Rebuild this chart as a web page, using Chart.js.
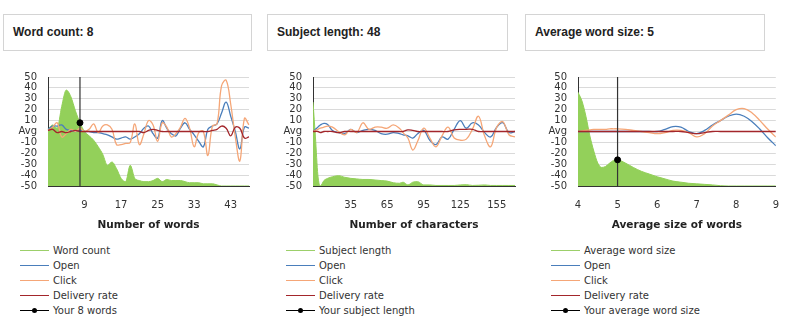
<!DOCTYPE html>
<html lang="en">
<head>
<meta charset="UTF-8">
<title>Subject line benchmarks</title>
<script src="https://cdn.jsdelivr.net/npm/chart.js"></script>
<style>
  body { margin: 0; width: 800px; height: 325px; background: #fff; position: relative; overflow: hidden; font-family: "DejaVu Sans", Verdana, sans-serif; }
  .box { position: absolute; top: 14px; height: 35px; border: 1px solid #d4d4d4; box-sizing: content-box; }
  .box span { position: absolute; left: 9px; top: 10px; font: bold 12px "Liberation Sans", Arial, sans-serif; color: #222; }
  .plot { position: absolute; top: 60px; width: 262px; height: 180px; }
  .legend { position: absolute; top: 243px; font-size: 10px; color: #333; }
  .legend div { height: 15px; line-height: 15px; position: relative; padding-left: 33px; white-space: nowrap; }
  .legend i { position: absolute; left: 0; top: 7px; width: 29px; height: 1px; }
  .legend b { position: absolute; left: 12px; top: 5px; width: 5px; height: 5px; border-radius: 50%; background: #000; }
</style>
</head>
<body>
<div class="box" style="left:3px;width:247px"><span>Word count: 8</span></div>
<div class="box" style="left:267px;width:239px"><span>Subject length: 48</span></div>
<div class="box" style="left:525px;width:238px"><span>Average word size: 5</span></div>

<div class="plot" style="left:0px"><canvas id="words"></canvas></div>
<div class="plot" style="left:265px"><canvas id="subject"></canvas></div>
<div class="plot" style="left:530px"><canvas id="size"></canvas></div>

<div class="legend" id="legWords" style="left:20px"></div>
<div class="legend" id="legSubject" style="left:286px"></div>
<div class="legend" id="legSize" style="left:551px"></div>

<script>
// colours
const GREEN = '#93d05a', BLUE = '#4a7ebb', ORANGE = '#f5a677', RED = '#a3262b';

// --- word count panel ---
const wordLabels = [1,2,3,4,5,6,7,8,9,10,11,12,13,14,15,16,17,18,19,20,21,22,23,24,25,26,27,28,29,30,31,32,33,
  36,37,38,39,40,41,42,43,44,45,46,47];
const wordTicks = [9, 17, 25, 33, 43];
const wordCount = [2,6,3,23,38,32,19,8,0,-4, -8,-14,-21,-31,-28,-34,-43,-46,-31,-43,
  -45,-46,-46,-45,-43,-46,-44,-45,-45,-45, -46,-47,-47,-47,-48,-48,-48,-49,-50,-50, -50,-50,-50,-50,-50];
const wordOpen = [2,5,5,6,2,1,0,1,0,0, -1,-1,-2,-3,-5,-7,-6,-5,-7,-5,
  -2,3,5,-2,-6,10,3,-2,-4,3, 8,2,-3,-9,-14,2,5,7,17,27, 14,0,-16,4,3];
const wordClick = [1,4,8,-5,-2,2,0,3,0,2, 7,-1,5,6,2,-12,-12,-11,-10,7,
  -12,-2,10,6,-9,8,4,-5,-2,4, 12,3,-14,-1,0,-22,5,7,42,47, 25,-5,-27,12,6];
const wordDelivery = [1,2,-1,0,-1,0,1,0,0,0, 0,0,0,0,0,0,0,0,0,0,
  0,-1,1,2,1,0,0,0,0,0, 0,0,0,0,0,0,1,2,5,3, -4,4,3,-6,-5];
const yourWords = 8;

// --- subject length panel ---
const subjLengths = [4,6,8,10,13,16,20,25,30,35,40,45,50,55,60,65,70,75,78,82,86,90,95,100,
  105,110,115,120,125,130,135,140,145,150,155,160,165,170];
const subjTicks = [35, 65, 95, 125, 155];
const subjCount = [27,-5,-40,-50,-45,-43,-41.5,-40.5,-42,-43,-43.5,-44,-44,-44.5,-45,-45.5,-47,-47.5,-46.5,-49,-46.5,-46,-49,-49,
  -49.5,-49.5,-49.5,-49.5,-49,-48.8,-49.5,-49.3,-49,-49.5,-49.5,-49.5,-49.5,-49.5];
const subjOpen = [0,2,4,6,7.5,6.5,1,-1,-2,2,-1,1,2,1,-2,-2.5,-1,-2,-3,-4,-6,-2,1,-8,
  -12,-5,-7,2,10,3,8,6,-1,-5,4,8,-1,0];
const subjClick = [0,1,2,3,4,5,4,0,-3,2,-1,8,2,4,4,3,6,3,-1,-6,-17,-9,3,-6,
  -14,-4,4,-6,-8,-7,2,14,-4,-14,4,9,-3,-5];
const subjDelivery = [0,0,0,-1,0,0,0,-1,0,0,0,0,0,0,0,0,0,0,0,1.5,1,0,0,0,
  0,0,0,1.5,2,2,2,0,0,0,0,0,0,0];

// --- average word size panel ---
const avgSizes = [4,4.1,4.2,4.3,4.4,4.5,4.6,4.7,4.8,4.9,5,5.2,5.4,5.6,5.8,6,6.2,6.4,6.6,6.8,7,7.2,7.4,7.6,7.8,8,8.2,8.4,8.6,8.8,9];
const sizeTicks = [4, 5, 6, 7, 8, 9];
const sizeCount = [36,28,14,-4,-18,-29,-33,-32,-29,-26.5,-26,-29,-33,-36.5,-39,-41.5,-43.5,-45.5,-46.5,-47.5,-48,-48.5,-49,-49.7,-50,-50,-50,-50,-50,-50,-50];
const sizeOpen = [0,0,0,0,0,0,0,0,0,0,0,0,0,0,0,0,2,4.5,4,0,-2,1,6,10,14,16,14,9,2,-6,-13];
const sizeClick = [0,0.5,1,1.5,2,2,2,2,2.5,2.5,2.5,2,1,0,-1,-2,-1,1,1,-1,-5,-2,5,10,15,20,21,17,10,2,-5];
const sizeDelivery = [0,0,0,0,0,0,0,0,0,0,0,0,0,0,0,0,0,0,0,-1,-2,-1,0,0,0,0,0,0,0,0,0];
const yourSize = 5;

const tickFont = { family: 'DejaVu Sans', size: 10 };

function yScale() {
  return {
    min: -50, max: 50,
    afterFit: s => { s.width = 48; },
    ticks: { stepSize: 10, autoSkip: false, padding: 11, color: '#333', font: tickFont,
      callback: v => v === 0 ? 'Avg' : v },
    grid: { color: '#dadada', drawTicks: false },
    border: { color: '#333', width: 1 }
  };
}

function xTitle(text) {
  return { display: true, text, color: '#222', font: { family: 'DejaVu Sans', size: 10.5, weight: 'bold' },
    padding: { top: 0, bottom: 8 } };
}

function series(data) {
  return [
    { label: 'count', data: data[0], borderColor: GREEN, backgroundColor: GREEN, borderWidth: 1,
      fill: 'start', cubicInterpolationMode: 'monotone', order: 10 },
    { label: 'Open', data: data[1], borderColor: BLUE, borderWidth: 1.3, tension: 0.4, order: 3 },
    { label: 'Click', data: data[2], borderColor: ORANGE, borderWidth: 1.3, tension: 0.4, order: 2 },
    { label: 'Delivery rate', data: data[3], borderColor: RED, borderWidth: 1.3, tension: 0.4, order: 1 }
  ];
}

function marker(x, y) {
  return [
    { data: [{ x, y: -50 }, { x, y: 50 }], borderColor: '#333', borderWidth: 1.2, pointRadius: 0, order: 0 },
    { data: [{ x, y }], borderColor: '#000', backgroundColor: '#000', pointRadius: 3, showLine: false, order: -1 }
  ];
}

function baseOptions(xScale) {
  return {
    responsive: false, animation: false,
    layout: { padding: { top: 10, right: 12, left: 0, bottom: 0 } },
    plugins: { legend: { display: false }, tooltip: { enabled: false } },
    elements: { point: { radius: 0 } },
    scales: { x: xScale, y: yScale() }
  };
}

function makeCanvas(id) {
  const c = document.getElementById(id);
  c.width = 262; c.height = 180;
  return c;
}

// word count chart (category axis)
new Chart(makeCanvas('words'), {
  type: 'line',
  data: {
    labels: wordLabels,
    datasets: series([wordCount, wordOpen, wordClick, wordDelivery])
      .concat(marker(yourWords, wordCount[wordLabels.indexOf(yourWords)]))
  },
  options: baseOptions({
    type: 'category',
    afterFit: s => { s.height = 54; },
    ticks: { autoSkip: false, maxRotation: 0, padding: 13, color: '#333', font: tickFont,
      callback(v) { const l = this.getLabelForValue(v); return wordTicks.includes(l) ? String(l) : ''; } },
    grid: { display: false, drawTicks: false },
    border: { color: '#333' },
    title: xTitle('Number of words')
  })
});

function linearX(min, max, ticks, title) {
  return {
    type: 'linear', min, max,
    afterFit: s => { s.height = 54; },
    afterBuildTicks: s => { s.ticks = ticks.map(v => ({ value: v })); },
    ticks: { autoSkip: false, maxRotation: 0, padding: 13, color: '#333', font: tickFont },
    grid: { display: false, drawTicks: false },
    border: { color: '#333' },
    title: xTitle(title)
  };
}

function pts(xs, ys) { return xs.map((x, i) => ({ x, y: ys[i] })); }

new Chart(makeCanvas('subject'), {
  type: 'line',
  data: {
    datasets: series([pts(subjLengths, subjCount), pts(subjLengths, subjOpen),
      pts(subjLengths, subjClick), pts(subjLengths, subjDelivery)])
  },
  options: baseOptions(linearX(4, 170, subjTicks, 'Number of characters'))
});

new Chart(makeCanvas('size'), {
  type: 'line',
  data: {
    datasets: series([pts(avgSizes, sizeCount), pts(avgSizes, sizeOpen),
      pts(avgSizes, sizeClick), pts(avgSizes, sizeDelivery)])
      .concat(marker(yourSize, sizeCount[avgSizes.indexOf(yourSize)]))
  },
  options: baseOptions(linearX(4, 9, sizeTicks, 'Average size of words'))
});

// html legends
function legend(id, first, yours) {
  const items = [[first, '#9ccf6a'], ['Open', BLUE], ['Click', ORANGE], ['Delivery rate', RED], [yours, '#000']];
  document.getElementById(id).innerHTML = items.map(([t, c], i) =>
    '<div><i style="background:' + c + '"></i>' + (i === 4 ? '<b></b>' : '') + t + '</div>').join('');
}
legend('legWords', 'Word count', 'Your 8 words');
legend('legSubject', 'Subject length', 'Your subject length');
legend('legSize', 'Average word size', 'Your average word size');
</script>
</body>
</html>
